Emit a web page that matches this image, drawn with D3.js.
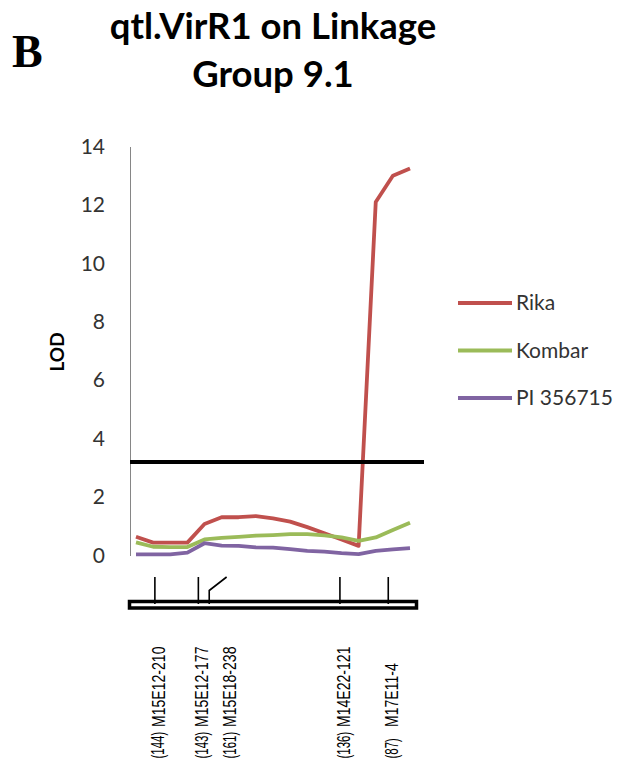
<!DOCTYPE html>
<html lang="en">
<head>
  <meta charset="utf-8">
  <title>qtl.VirR1 on Linkage Group 9.1</title>
  <style>
    body { margin: 0; background: #fff; }
    svg { display: block; }
    .y.axis .domain { stroke: #868686; }
    .y.axis text { font-family: Lato, sans-serif; font-size: 21px; fill: #333; }
    .mk { font-family: 'Liberation Sans', Arial, sans-serif; font-size: 18.5px; fill: #000; }
  </style>
</head>
<body>
  <script src="https://d3js.org/d3.v7.min.js"></script>
  <svg width="627" height="767"></svg>
  <script>
    // LOD profile, 17 positions along the linkage group
    var rika   = [0.64, 0.44, 0.44, 0.44, 1.08, 1.31, 1.31, 1.35, 1.27, 1.16, 0.97, 0.76, 0.55, 0.33, 12.1, 13.0, 13.25];
    var kombar = [0.45, 0.30, 0.29, 0.29, 0.55, 0.60, 0.64, 0.68, 0.70, 0.73, 0.73, 0.69, 0.62, 0.50, 0.62, 0.87, 1.12];
    var pi     = [0.04, 0.04, 0.04, 0.10, 0.42, 0.34, 0.33, 0.28, 0.27, 0.22, 0.16, 0.13, 0.08, 0.05, 0.16, 0.21, 0.25];
    var seriesNames = ["Rika", "Kombar", "PI 356715"];
    var threshold = 3.2;
    var yTicks = [0, 2, 4, 6, 8, 10, 12, 14];

    // markers on the map bar (position in map units 0-100)
    var markerNames = ["M15E12-210", "M15E12-177", "M15E18-238", "M14E22-121", "M17E11-4"];
    var markerNums = ["(144)", "(143)", "(161)", "(136)", "(87)"];
    var markerPos = [8.7, 23.9, 27.7, 73.4, 90.3];

    var color = d3.scaleOrdinal(seriesNames, ["#C0504D", "#9BBB59", "#8064A2"]);

    const svg = d3.select("svg");

    var x = d3.scaleLinear().domain([0, rika.length - 1]).range([136, 410]);
    var y = d3.scaleLinear().domain([0, 14]).range([555.5, 146.5]);

    // titles
    svg.append("text")
      .attr("x", 12).attr("y", 67)
      .style("font-family", "'Liberation Serif', serif")
      .style("font-weight", "bold").style("font-size", "46px")
      .text("B");

    var title = svg.append("text")
      .attr("text-anchor", "middle")
      .style("font-family", "Lato, sans-serif")
      .style("font-weight", "bold").style("font-size", "36.5px");
    title.append("tspan").attr("x", 273).attr("y", 39).text("qtl.VirR1 on Linkage");
    title.append("tspan").attr("x", 273).attr("y", 87).text("Group 9.1");

    // y axis
    var y_axis = d3.axisLeft(y).tickValues(yTicks).tickSize(0).tickPadding(25);
    svg.append("g")
      .attr("class", "y axis")
      .attr("transform", "translate(130,0)")
      .call(y_axis);

    svg.append("text")
      .attr("transform", "translate(56,352) rotate(-90)")
      .attr("text-anchor", "middle")
      .attr("dominant-baseline", "central")
      .style("font-family", "Lato, sans-serif")
      .style("font-weight", "bold").style("font-size", "19px")
      .text("LOD");

    // series lines
    var line = d3.line()
      .x(function (d, i) { return x(i); })
      .y(function (d) { return y(d); });

    [rika, kombar, pi].forEach(function (data, k) {
      svg.append("path")
        .datum(data)
        .attr("fill", "none")
        .attr("stroke", color(seriesNames[k]))
        .attr("stroke-width", 3.8)
        .attr("stroke-linejoin", "round")
        .attr("d", line);
    });

    // threshold line
    svg.append("line")
      .attr("x1", 130).attr("x2", 424)
      .attr("y1", y(threshold)).attr("y2", y(threshold))
      .attr("stroke", "#000").attr("stroke-width", 4);

    // legend
    var legend = svg.selectAll(".legend")
      .data(seriesNames)
      .enter().append("g")
      .attr("class", "legend")
      .attr("transform", function (d, i) { return "translate(458," + (303 + i * 47.5) + ")"; });
    legend.append("line")
      .attr("x1", 0).attr("x2", 54)
      .attr("stroke", function (d) { return color(d); })
      .attr("stroke-width", 3.8);
    legend.append("text")
      .attr("x", 58).attr("dy", "0.35em")
      .style("font-family", "Lato, sans-serif").style("font-size", "21px")
      .style("fill", "#333")
      .text(function (d) { return d; });

    // linkage map bar
    var m = d3.scaleLinear().domain([0, 100]).range([130, 416]);
    var markers = markerNames.map(function (n, i) {
      return { name: n, num: markerNums[i], pos: markerPos[i], bent: i == 2 };
    });

    var map = svg.append("g");
    markers.forEach(function (d) {
      var mx = m(d.pos);
      var top = d.bent ? mx + 17.4 : mx;
      if (d.bent) {
        map.append("path")
          .attr("d", "M" + mx + ",604 L" + mx + ",590.5 L" + top + ",577")
          .attr("fill", "none").attr("stroke", "#000").attr("stroke-width", 1.6);
      } else {
        map.append("line")
          .attr("x1", mx).attr("x2", mx).attr("y1", 577).attr("y2", 604)
          .attr("stroke", "#000").attr("stroke-width", 1.6);
      }
      // labels read bottom-to-top: number at the bottom, marker name above it
      var lbl = map.append("g").attr("transform", "translate(" + (top + 3) + ",0)");
      lbl.append("text")
        .attr("class", "mk")
        .attr("transform", "translate(0,758.5) rotate(-90) scale(0.62,1)")
        .attr("text-anchor", "start").attr("dominant-baseline", "central")
        .text(d.num);
      lbl.append("text")
        .attr("class", "mk")
        .attr("transform", "translate(0,727) rotate(-90) scale(0.76,1)")
        .attr("text-anchor", "start").attr("dominant-baseline", "central")
        .text(d.name);
    });
    map.append("rect")
      .attr("x", m(0) - 0.5).attr("y", 601.5)
      .attr("width", m(100) - m(0) + 1).attr("height", 6.5)
      .attr("fill", "none").attr("stroke", "#000").attr("stroke-width", 3.5);
  </script>
</body>
</html>
